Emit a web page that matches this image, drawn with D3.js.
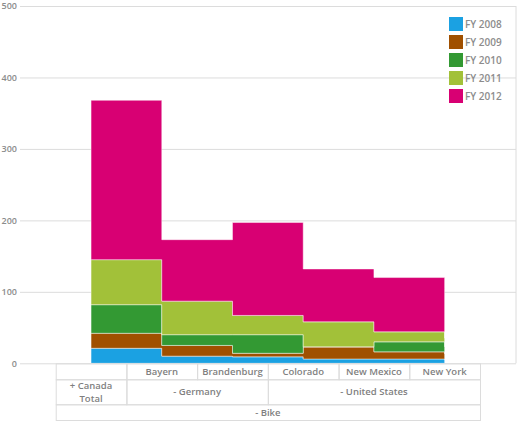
<!DOCTYPE html>
<html>
<head>
<meta charset="utf-8">
<script src="https://cdn.jsdelivr.net/npm/d3@7"></script>
<style>
  body { margin: 0; background: #fff; }
  svg { font-family: "Open Sans", sans-serif; }
</style>
</head>
<body>
<div class="chart"></div>
<script>
// categories (columns of the pivot header)
const states = ["Canada Total", "Bayern", "Brandenburg", "Colorado", "New Mexico", "New York"];
const years = ["FY 2008", "FY 2009", "FY 2010", "FY 2011", "FY 2012"];

// values per year, one per state
const fy2008 = [21, 10, 9, 6, 6, 5];
const fy2009 = [21, 15, 5, 17, 10, 8];
const fy2010 = [40, 15, 26, 0, 14, 10];
const fy2011 = [63, 47, 27, 35, 14, 12];
const fy2012 = [223, 86, 130, 74, 76, 70];

const yTicks = [0, 100, 200, 300, 400, 500];
const colors = ["#1ba1e2", "#a05000", "#339933", "#a2c139", "#d80073"];

const W = 518, H = 423;
const svg = d3.select(".chart").append("svg")
  .attr("width", W)
  .attr("height", H);

const rows = states.map((s, i) => ({
  state: s,
  "FY 2008": fy2008[i],
  "FY 2009": fy2009[i],
  "FY 2010": fy2010[i],
  "FY 2011": fy2011[i],
  "FY 2012": fy2012[i]
}));

const stacked = d3.stack().keys(years)(rows);

// table columns
const col = d3.scaleBand().domain(states).range([55.7, 480]).padding(0);
const cx = d => col(d) + col.bandwidth() / 2;

const y = d3.scaleLinear().domain([0, 500]).range([363.3, 6]);

// grid + labels
const yAxis = svg.append("g")
  .attr("transform", "translate(20,0)")
  .call(d3.axisLeft(y).tickValues(yTicks).tickSize(-496).tickPadding(3));
yAxis.select(".domain").remove();
yAxis.selectAll("line").attr("stroke", "#dcdcdc");
yAxis.selectAll("text")
  .attr("fill", "#8c8c8c")
  .style("font-size", "9px")
  .style("font-weight", 600)
  .style("font-family", "Open Sans, sans-serif");

// right border of the plot
svg.append("line")
  .attr("x1", 516).attr("x2", 516)
  .attr("y1", y(500)).attr("y2", y(0))
  .attr("stroke", "#dcdcdc");

// step areas
const area = d3.area()
  .curve(d3.curveStepAfter)
  .x(d => cx(d.data.state))
  .y0(d => y(d[0]))
  .y1(d => y(d[1]));

svg.append("g")
  .selectAll("path")
  .data(stacked)
  .join("path")
    .attr("d", area)
    .attr("fill", (d, i) => colors[i])
    .attr("stroke", "rgba(255,255,255,0.45)")
    .attr("stroke-width", 1);

// legend
const legend = svg.append("g")
  .selectAll("g")
  .data(years)
  .join("g")
    .attr("transform", (d, i) => `translate(449,${17 + i * 18})`);
legend.append("rect")
  .attr("width", 14).attr("height", 14)
  .attr("fill", (d, i) => colors[i]);
legend.append("text")
  .attr("x", 16).attr("y", 11)
  .attr("fill", "#8c8c8c")
  .style("font-size", "10px")
  .style("font-weight", 600)
  .text(d => d);

// pivot table under the chart
const tbl = svg.append("g");
const rowY = [363.3, 379.3, 404.3, 420];
const border = "#dcdcdc";
const textColor = "#7f7f7f";

function cell(x0, x1, y0, y1, lines) {
  tbl.append("rect")
    .attr("x", x0 + 0.5).attr("y", y0 + 0.5)
    .attr("width", x1 - x0).attr("height", y1 - y0)
    .attr("fill", "none")
    .attr("stroke", border);
  const mid = (y0 + y1) / 2;
  lines.forEach((t, i) => {
    tbl.append("text")
      .attr("x", (x0 + x1) / 2)
      .attr("y", mid + 3.5 + (i - (lines.length - 1) / 2) * 12.5)
      .attr("text-anchor", "middle")
      .attr("fill", textColor)
      .style("font-size", "9.5px")
      .style("font-weight", 600)
      .text(t);
  });
}

const left = col.range()[0], right = col.range()[1];
// header row: first cell empty, then states
cell(left, col(states[1]), rowY[0], rowY[1], []);
states.slice(1).forEach(s => {
  cell(col(s), col(s) + col.bandwidth(), rowY[0], rowY[1], [s]);
});
// country row
cell(left, col(states[1]), rowY[1], rowY[2], ["+ Canada", "Total"]);
cell(col("Bayern"), col("Colorado"), rowY[1], rowY[2], ["- Germany"]);
cell(col("Colorado"), right, rowY[1], rowY[2], ["- United States"]);
// product row
cell(left, right, rowY[2], rowY[3], ["- Bike"]);
</script>
</body>
</html>
